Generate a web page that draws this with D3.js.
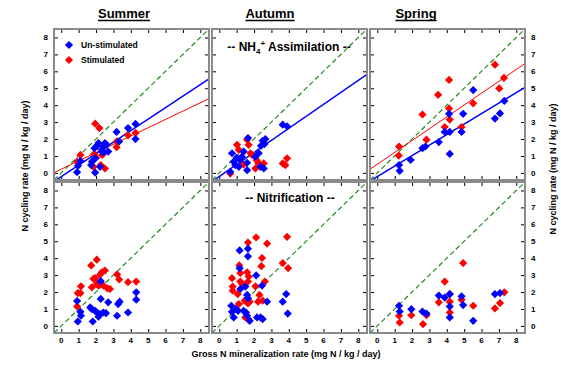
<!DOCTYPE html>
<html>
<head>
<meta charset="utf-8">
<script src="https://cdn.jsdelivr.net/npm/d3@7"></script>
<style>
  body { margin: 0; background: #fff; }
  text { font-family: "Liberation Sans", Arial, sans-serif; font-weight: bold; }
</style>
</head>
<body>
<div id="chart"></div>
<script>
// seasons (columns) and processes (rows)
var seasons = ["Summer", "Autumn", "Spring"];
var processes = ["assim", "nitri"];
var tickValues = [0, 1, 2, 3, 4, 5, 6, 7, 8];

// [gross mineralization, N cycling rate]
var summerAssimUnstim = [[0.91,0.04],[0.96,0.42],[1.1,0.7],[1.76,0.66],[1.72,0.46],[1.91,1.46],[1.95,0.02],[1.95,0.86],
  [2.14,1.76],[2.23,0.36],[2.33,1.36],[2.42,1.56],[2.51,1.76],[2.6,1.66],[2.7,1.26],[3.18,2.42],[3.33,1.86],
  [3.84,2.65],[4.27,2.89],[4.27,2.0],[2.05,1.6],[2.4,1.2]];
var summerAssimStim = [[0.91,0.66],[1.1,1.06],[1.89,1.12],[1.95,2.91],[2.19,2.65],[1.85,0.36],[2.27,0.46],[2.51,0.26],
  [2.35,1.06],[2.45,1.16],[3.2,1.86],[3.18,1.52],[3.84,2.22],[4.27,2.36],[2.0,0.9]];
var autumnAssimUnstim = [[0.63,0.06],[0.73,1.16],[0.83,0.66],[0.92,0.46],[1.12,0.36],[1.21,0.76],[1.3,0.96],[1.4,1.26],
  [1.6,0.16],[1.65,2.06],[1.6,0.6],[2.08,0.96],[2.27,1.16],[2.4,1.6],[2.5,1.9],[2.6,1.7],[2.65,2.0],[2.37,0.36],
  [2.56,0.26],[3.65,2.85],[3.9,2.75],[1.0,0.9]];
var autumnAssimStim = [[0.63,-0.04],[1.02,1.66],[1.12,1.36],[1.6,1.96],[1.69,1.66],[1.79,1.16],[1.88,1.06],[2.08,0.26],
  [2.25,0.56],[2.37,0.46],[2.56,0.56],[2.15,0.75],[3.65,0.56],[3.9,0.86],[3.8,0.46],[1.4,0.5]];
var springAssimUnstim = [[1.25,0.46],[1.29,0.12],[1.92,0.76],[2.6,1.46],[2.77,1.56],[3.54,1.82],[3.88,2.42],[4.17,2.42],
  [4.13,3.49],[4.17,1.12],[4.85,2.42],[4.94,3.49],[5.52,4.89],[6.77,3.21],[7.06,3.51],[7.31,4.25]];
var springAssimStim = [[1.25,1.56],[1.23,1.02],[2.6,3.45],[2.83,1.96],[3.5,4.61],[3.88,2.71],[4.13,5.49],[4.13,3.81],
  [4.17,3.15],[4.85,2.71],[5.52,4.11],[6.77,6.39],[7.02,4.99],[7.29,5.61]];
var summerNitriUnstim = [[0.91,1.47],[0.95,0.26],[1.1,0.83],[1.13,0.6],[1.66,1.09],[1.76,0.99],[1.81,0.26],[1.95,0.89],
  [2.04,0.79],[2.14,0.54],[2.23,0.69],[2.27,2.64],[2.27,1.59],[2.42,0.79],[2.57,0.75],[2.7,1.39],[3.21,0.6],
  [3.27,1.29],[3.36,1.43],[3.84,0.79],[4.31,1.98],[4.31,1.55]];
var summerNitriStim = [[0.91,1.15],[0.95,1.94],[1.1,1.94],[1.13,2.34],[1.72,3.57],[2.04,3.91],[1.76,2.28],[1.85,2.78],
  [1.95,2.82],[2.04,2.48],[2.14,2.38],[2.23,3.02],[2.33,3.17],[2.51,3.27],[2.42,2.38],[2.65,2.22],[2.8,2.18],
  [3.21,3.04],[3.33,2.74],[3.84,2.58],[4.31,2.62]];
var autumnNitriUnstim = [[0.69,1.19],[0.73,0.83],[0.83,0.5],[0.96,0.99],[1.08,0.89],[1.17,4.46],[1.17,3.41],[1.21,2.18],
  [1.4,0.89],[1.54,0.79],[1.5,2.32],[1.6,1.83],[1.65,1.63],[1.65,4.56],[1.65,4.11],[1.6,0.6],[1.75,0.3],[2.12,2.98],
  [2.17,0.5],[2.37,0.5],[2.5,0.4],[2.46,2.38],[2.75,1.43],[3.65,1.43],[3.85,1.88],[3.94,0.73]];
var autumnNitriStim = [[0.73,2.82],[0.77,2.32],[0.77,2.08],[1.06,1.88],[1.12,1.29],[1.15,3.57],[1.21,3.12],[1.21,2.62],
  [1.31,2.48],[1.6,3.17],[1.69,2.92],[1.65,4.92],[1.65,2.62],[1.46,1.49],[1.65,1.33],[1.75,1.43],[1.5,0.5],
  [1.65,0.4],[2.12,5.22],[2.08,2.34],[2.23,1.43],[2.31,1.83],[2.5,1.49],[2.46,4.01],[2.42,3.53],[2.62,2.62],
  [2.75,4.86],[3.65,3.71],[3.9,5.26],[3.96,3.41]];
var springNitriUnstim = [[1.25,1.19],[1.29,0.85],[1.96,0.99],[2.6,0.85],[2.83,0.73],[3.54,1.79],[3.88,1.67],[4.17,1.88],
  [4.17,1.15],[4.17,0.5],[4.85,1.75],[4.94,1.23],[5.52,0.3],[6.77,1.88],[7.06,1.94]];
var springNitriStim = [[1.25,0.6],[1.29,0.2],[1.96,0.63],[2.63,0.1],[2.83,0.63],[3.54,1.39],[3.88,2.62],[4.17,1.88],
  [4.17,1.43],[4.17,0.79],[4.85,1.55],[4.94,3.71],[5.52,1.19],[6.77,1.03],[7.06,1.35],[7.31,1.98]];

// fitted lines, [slope, intercept]; null = no line
var summerAssimFit = { unstim: [0.68, -0.22], stim: [0.49, 0.22] };
var autumnAssimFit = { unstim: [0.71, -0.21], stim: null };
var springAssimFit = { unstim: [0.62, -0.22], stim: [0.70, 0.51] };

var panels = [
  { col: 0, row: 0, unstim: summerAssimUnstim, stim: summerAssimStim, fit: summerAssimFit },
  { col: 1, row: 0, unstim: autumnAssimUnstim, stim: autumnAssimStim, fit: autumnAssimFit },
  { col: 2, row: 0, unstim: springAssimUnstim, stim: springAssimStim, fit: springAssimFit },
  { col: 0, row: 1, unstim: summerNitriUnstim, stim: summerNitriStim, fit: null },
  { col: 1, row: 1, unstim: autumnNitriUnstim, stim: autumnNitriStim, fit: null },
  { col: 2, row: 1, unstim: springNitriUnstim, stim: springNitriStim, fit: null }
];

var W = 561, H = 366;
var colX = [54, 212, 370], rowY = [29, 182];
var pw = 155, ph = 151;
var dom = [-0.42, 8.5];
var blue = "#0000ff", red = "#ff0000", green = "#1e8c1e", frame = "#8a8a8a";

var svg = d3.select("#chart").append("svg")
  .attr("width", W).attr("height", H);

var diamond = "M0,-4.1L4.1,0L0,4.1L-4.1,0Z";

panels.forEach(function (p, i) {
  var x = d3.scaleLinear().domain(dom).range([0, pw]);
  var y = d3.scaleLinear().domain(dom).range([ph, 0]);
  var g = svg.append("g").attr("transform", "translate(" + colX[p.col] + "," + rowY[p.row] + ")");

  g.append("clipPath").attr("id", "clip" + i)
    .append("rect").attr("width", pw).attr("height", ph);

  // ticks on all four sides, pointing inward
  g.append("g").call(d3.axisBottom(x).tickValues(tickValues).tickSize(-4).tickFormat(""))
    .attr("transform", "translate(0," + ph + ")");
  g.append("g").call(d3.axisTop(x).tickValues(tickValues).tickSize(-4).tickFormat(""));
  g.append("g").call(d3.axisLeft(y).tickValues(tickValues).tickSize(-4).tickFormat(""));
  g.append("g").call(d3.axisRight(y).tickValues(tickValues).tickSize(-4).tickFormat(""))
    .attr("transform", "translate(" + pw + ",0)");
  g.selectAll(".domain").remove();
  g.selectAll(".tick line").attr("stroke", "#000").attr("stroke-width", 1);

  var plot = g.append("g").attr("clip-path", "url(#clip" + i + ")");

  // 1:1 line
  plot.append("line")
    .attr("x1", x(dom[0])).attr("y1", y(dom[0]))
    .attr("x2", x(dom[1])).attr("y2", y(dom[1]))
    .attr("stroke", green).attr("stroke-width", 1.2).attr("stroke-dasharray", "5,3");

  if (p.fit) {
    [["stim", red, 1], ["unstim", blue, 1.5]].forEach(function (s) {
      var f = p.fit[s[0]];
      if (!f) return;
      plot.append("line")
        .attr("x1", x(dom[0])).attr("y1", y(f[0] * dom[0] + f[1]))
        .attr("x2", x(dom[1])).attr("y2", y(f[0] * dom[1] + f[1]))
        .attr("stroke", s[1]).attr("stroke-width", s[2]);
    });
  }

  [[p.stim, red], [p.unstim, blue]].forEach(function (s) {
    plot.selectAll(null).data(s[0]).enter().append("path")
      .attr("d", diamond)
      .attr("fill", s[1])
      .attr("transform", function (d) { return "translate(" + x(d[0]) + "," + y(d[1]) + ")"; });
  });

  g.append("rect").attr("width", pw).attr("height", ph)
    .attr("fill", "none").attr("stroke", frame).attr("stroke-width", 2);

  // tick labels
  if (p.col === 0) {
    g.selectAll(null).data(tickValues).enter().append("text")
      .attr("x", -6).attr("y", function (d) { return y(d) + 3; })
      .attr("text-anchor", "end").attr("font-size", 8).text(function (d) { return d; });
  }
  if (p.col === 2) {
    g.selectAll(null).data(tickValues).enter().append("text")
      .attr("x", pw + 6).attr("y", function (d) { return y(d) + 3; })
      .attr("text-anchor", "start").attr("font-size", 8).text(function (d) { return d; });
  }
  if (p.row === 1) {
    g.selectAll(null).data(tickValues).enter().append("text")
      .attr("x", function (d) { return x(d); }).attr("y", ph + 10)
      .attr("text-anchor", "middle").attr("font-size", 8).text(function (d) { return d; });
  }
});

// season titles, underlined
var titleX = [124, 270, 416];
seasons.forEach(function (s, i) {
  var t = svg.append("text").attr("x", titleX[i]).attr("y", 18)
    .attr("text-anchor", "middle").attr("font-size", 13).text(s);
  var bb = t.node().getBBox();
  svg.append("line").attr("x1", bb.x).attr("x2", bb.x + bb.width)
    .attr("y1", 20.5).attr("y2", 20.5).attr("stroke", "#000").attr("stroke-width", 1.3);
});

// process labels inside middle column
var nh = svg.append("text").attr("x", 289).attr("y", 51).attr("text-anchor", "middle").attr("font-size", 12);
nh.append("tspan").text("-- NH");
nh.append("tspan").attr("font-size", 8).attr("dy", 3).text("4");
nh.append("tspan").attr("font-size", 8).attr("dy", -8).text("+");
nh.append("tspan").attr("dy", 5).text(" Assimilation --");

svg.append("text").attr("x", 290).attr("y", 202).attr("text-anchor", "middle")
  .attr("font-size", 12).text("-- Nitrification --");

// legend
var legend = [["Un-stimulated", blue], ["Stimulated", red]];
legend.forEach(function (l, i) {
  svg.append("path").attr("d", diamond).attr("fill", l[1])
    .attr("transform", "translate(69," + (45 + i * 15) + ")");
  svg.append("text").attr("x", 81).attr("y", 48 + i * 15).attr("font-size", 8.5).text(l[0]);
});

// axis titles
svg.append("text").attr("transform", "translate(28,166) rotate(-90)")
  .attr("text-anchor", "middle").attr("font-size", 9).text("N cycling rate (mg N / kg / day)");
svg.append("text").attr("transform", "translate(556,169) rotate(-90)")
  .attr("text-anchor", "middle").attr("font-size", 9).text("N cycling rate (mg N / kg / day)");
svg.append("text").attr("x", 286).attr("y", 357)
  .attr("text-anchor", "middle").attr("font-size", 9).text("Gross N mineralization rate (mg N / kg / day)");
</script>
</body>
</html>
